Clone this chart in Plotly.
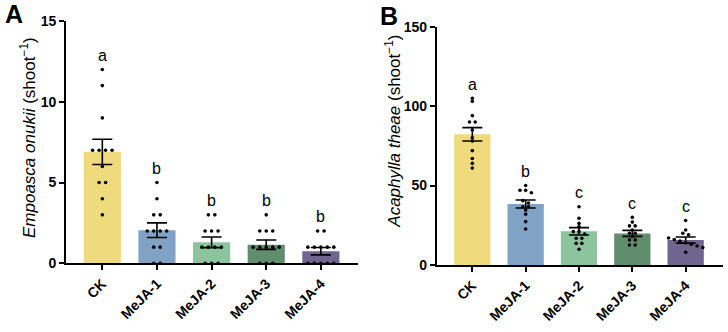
import numpy as np
import plotly.graph_objects as go

# ---------------- data ----------------
categories = ["CK", "MeJA-1", "MeJA-2", "MeJA-3", "MeJA-4"]

# Panel A: Empoasca onukii (individual observations)
a_ck = [12, 11, 9, 7, 7, 7, 7, 6, 5, 5, 4, 3]
a_m1 = [5, 4, 3, 3, 2, 2, 2, 2, 1, 1, 0, 0]
a_m2 = [3, 3, 2, 2, 2, 1, 1, 1, 1, 0, 0, 0]
a_m3 = [3, 2, 2, 2, 1, 1, 1, 1, 1, 0, 0, 0]
a_m4 = [2, 2, 1, 1, 1, 1, 1, 0, 0, 0, 0, 0]
a_mean = [6.9, 2.05, 1.3, 1.15, 0.75]
a_se = [0.78, 0.45, 0.33, 0.29, 0.23]
a_letters = ["a", "b", "b", "b", "b"]

# Panel B: Acaphylla theae (individual observations)
b_ck = [105, 103, 94, 90, 90, 85, 80, 78, 72, 67, 64, 61]
b_m1 = [50, 47, 47, 45.5, 40.5, 39, 36.7, 36.7, 34.6, 32, 27.3, 22.7]
b_m2 = [36.7, 29.4, 26.2, 24, 21, 21, 19.5, 16.8, 16.8, 13.6, 13.6, 9.9]
b_m3 = [30, 27, 24.6, 24.6, 22, 20, 20, 18, 15.8, 15.8, 12.6, 12.6]
b_m4 = [28, 22, 20, 19, 17, 16, 15, 14, 13, 12, 11, 8]
b_mean = [82.3, 38.4, 21.2, 19.9, 15.7]
b_se = [4.2, 2.5, 2.3, 1.9, 1.9]
b_letters = ["a", "b", "c", "c", "c"]

colors = ["#F0DA7E", "#7FA2C5", "#8BC49D", "#5F8D6D", "#6F6690"]

W, H = 728, 332
FONT = "Liberation Sans, Arial, sans-serif"

A_X = [66 / W, 358 / W]
A_Y = [(H - 263.3) / H, (H - 21) / H]
B_X = [436.7 / W, 723 / W]
B_Y = [(H - 265) / H, (H - 26.7) / H]
A_XR = [-0.665, 4.68]
B_XR = [-0.668, 4.70]
A_YR = [0, 15]
B_YR = [0, 150]


def swarm(groups, xdom, xr, ydom, yr, d_px, tol_px):
    """Spread overlapping dots horizontally, centred on each category."""
    px_per_x = (xdom[1] - xdom[0]) * W / (xr[1] - xr[0])
    px_per_y = (ydom[1] - ydom[0]) * H / (yr[1] - yr[0])
    xs, ys = [], []
    for i, vals in enumerate(groups):
        v = sorted(vals, reverse=True)
        clusters = [[v[0]]]
        for val in v[1:]:
            if abs(clusters[-1][-1] - val) * px_per_y < tol_px:
                clusters[-1].append(val)
            else:
                clusters.append([val])
        for c in clusters:
            n = len(c)
            for k, val in enumerate(c):
                xs.append(i + (k - (n - 1) / 2) * d_px / px_per_x)
                ys.append(val)
    return xs, ys


fig = go.Figure()


def panel(xa, ya, groups, means, ses, letters, xdom, xr, ydom, yr, d_px):
    fig.add_trace(go.Bar(
        x=list(range(len(categories))), y=means, width=0.68,
        marker=dict(color=colors, line=dict(width=0)),
        error_y=dict(type="data", array=ses, visible=True, color="black",
                     thickness=1.6, width=10),
        xaxis=xa, yaxis=ya, showlegend=False))
    xs, ys = swarm(groups, xdom, xr, ydom, yr, d_px, 2.5)
    fig.add_trace(go.Scatter(
        x=xs, y=ys, mode="markers",
        marker=dict(color="black", size=3.6),
        xaxis=xa, yaxis=ya, showlegend=False))
    for i, (g, lt) in enumerate(zip(groups, letters)):
        fig.add_annotation(x=i, y=max(g), text=lt, showarrow=False,
                           xref=xa, yref=ya, yanchor="middle", yshift=14,
                           font=dict(family=FONT, size=16, color="black"))


panel("x", "y", [a_ck, a_m1, a_m2, a_m3, a_m4], a_mean, a_se, a_letters,
      A_X, A_XR, A_Y, A_YR, 6.5)
panel("x2", "y2", [b_ck, b_m1, b_m2, b_m3, b_m4], b_mean, b_se, b_letters,
      B_X, B_XR, B_Y, B_YR, 5.7)

axis_common = dict(showline=True, linecolor="black", linewidth=1.6,
                   ticks="outside", ticklen=5, tickwidth=1.6, tickcolor="black",
                   showgrid=False, zeroline=False, automargin=False,
                   tickfont=dict(family=FONT, size=14, color="black", weight="bold"))

fig.update_layout(
    width=W, height=H, margin=dict(l=0, r=0, t=0, b=0),
    paper_bgcolor="white", plot_bgcolor="white",
    xaxis=dict(domain=A_X, range=A_XR, anchor="y", tickmode="array",
               tickvals=list(range(5)), ticktext=categories, tickangle=-45,
               **axis_common),
    yaxis=dict(domain=A_Y, range=A_YR, anchor="x", tickvals=[0, 5, 10, 15],
               **axis_common),
    xaxis2=dict(domain=B_X, range=B_XR, anchor="y2", tickmode="array",
                tickvals=list(range(5)), ticktext=categories, tickangle=-45,
                **axis_common),
    yaxis2=dict(domain=B_Y, range=B_YR, anchor="x2", tickvals=[0, 50, 100, 150],
                **axis_common),
)

fig.add_annotation(x=28 / W, y=(H - 138) / H, xref="paper", yref="paper",
                   xanchor="center", yanchor="middle",
                   text="<i>Empoasca onukii</i> (shoot<sup>−1</sup>)",
                   textangle=-90, showarrow=False,
                   font=dict(family=FONT, size=17, color="black"))
fig.add_annotation(x=393 / W, y=(H - 131.7) / H, xref="paper", yref="paper",
                   xanchor="center", yanchor="middle",
                   text="<i>Acaphylla theae</i> (shoot<sup>−1</sup>)",
                   textangle=-90, showarrow=False,
                   font=dict(family=FONT, size=17, color="black"))
fig.add_annotation(x=14 / W, y=1, xref="paper", yref="paper",
                   xanchor="center", yanchor="top",
                   yshift=2, text="<b>A</b>", showarrow=False,
                   font=dict(family=FONT, size=25, color="black"))
fig.add_annotation(x=389 / W, y=1, xref="paper", yref="paper",
                   xanchor="center", yanchor="top",
                   yshift=0, text="<b>B</b>", showarrow=False,
                   font=dict(family=FONT, size=25, color="black"))

fig.write_html("out.html")
